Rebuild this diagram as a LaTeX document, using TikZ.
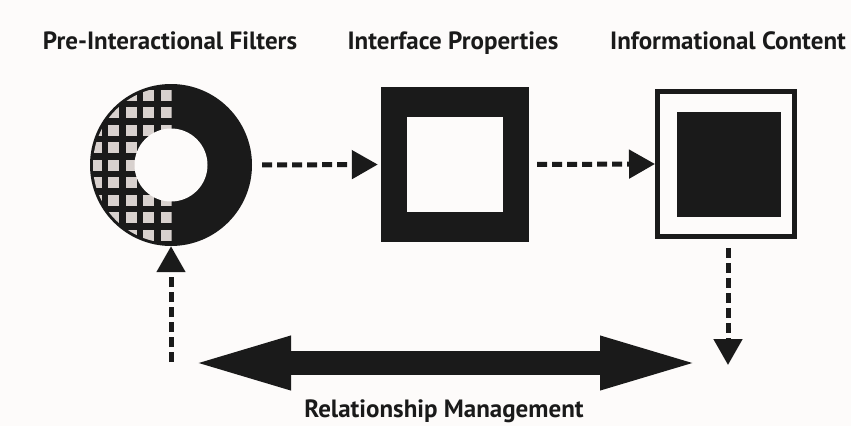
\documentclass[tikz,border=0pt]{standalone}
\usepackage{fontspec}
\setmainfont{PT Sans}
\usetikzlibrary{arrows.meta}

\definecolor{tinta}{HTML}{1A1A1A}
\definecolor{papel}{HTML}{FDFBFA}
\definecolor{baldosa}{HTML}{D8D1CE}

\begin{document}
\begin{tikzpicture}[x=1pt, y=-1pt,
  titulo/.style={font=\fontsize{25}{30}\selectfont\bfseries, text=tinta, inner sep=0pt, anchor=base},
  flecha/.style={tinta, line width=5pt, dash pattern=on 10pt off 5pt,
    -{Triangle[length=26pt, width=28pt]}},
  gruesa/.style={tinta, line width=24pt,
    {Triangle[length=108pt, width=46pt]}-{Triangle[length=108pt, width=46pt]}},
  baldosa/.style={fill=baldosa}]

% Fondo
\fill[papel] (0,0) rectangle (851,426);
\useasboundingbox (0,0) rectangle (851,426);

% Titulos
\node[titulo] (t1) at (170,49) {Pre-Interactional Filters};
\node[titulo] (t2) at (453,49) {Interface Properties};
\node[titulo] (t3) at (728,49) {Informational Content};

% Figuras
\node[circle, minimum size=162pt, inner sep=0pt] (ring) at (171,165) {};
\node[fill=tinta, minimum width=148pt, minimum height=155pt, inner sep=0pt] (iface) at (455,164.5) {};
\node[fill=papel, minimum width=96pt, minimum height=95pt, inner sep=0pt] at (iface.center) {};
\node[draw=tinta, line width=5pt, fill=papel, minimum width=137pt, minimum height=145pt, inner sep=0pt] (info) at (726,164) {};
\node[fill=tinta, minimum width=104pt, minimum height=105pt, inner sep=0pt] at (729,164.5) {};

% Anillo: mitad izquierda en rejilla
\fill[tinta] (ring.center) circle[radius=81];
\begin{scope}
  \clip (ring.center) circle[radius=78];
  \clip (90,80) rectangle (171.5,250);
  \foreach \i in {0,...,5}
    \foreach \j in {-4,...,4}
      \fill[baldosa] (171-10.5-17.5*\i, 165-5.5+17.5*\j) rectangle ++(11,11);
\end{scope}
\fill[papel] (ring.center) circle[radius=36.5];

% Puntos libres
\coordinate (sube) at (171,362);
\coordinate (baja) at (728,365);
\coordinate (izq) at (183,363);
\coordinate (der) at (708,363);

% Conexiones
\draw[flecha, shorten <=10pt, shorten >=3pt] (ring.east) -- (iface.west);
\draw[flecha, shorten <=8pt] (iface.east) -- (info.west);
\draw[flecha, shorten <=9pt] ([xshift=2pt]info.south) -- (baja);
\draw[flecha] (sube) -- (ring.south);
\draw[gruesa] (izq) -- (der);

\node[titulo] (gestion) at (444,417) {Relationship Management};

\end{tikzpicture}
\end{document}
